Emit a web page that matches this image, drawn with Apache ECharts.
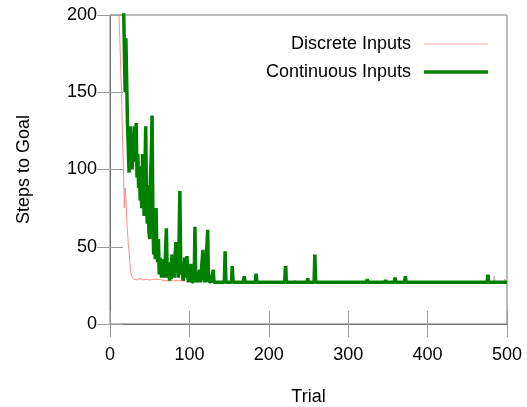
<!DOCTYPE html>
<html>
<head>
<meta charset="utf-8">
<script src="https://cdn.jsdelivr.net/npm/echarts@6/dist/echarts.min.js"></script>
<style>
html,body{margin:0;padding:0;background:#fff;}
#c{width:527px;height:407px;}
</style>
</head>
<body>
<div id="c"></div>
<script>
// Tick values
var xTicks = [0, 100, 200, 300, 400, 500];
var yTicks = [0, 50, 100, 150, 200];
var seriesNames = ['Discrete Inputs', 'Continuous Inputs'];

// Discrete Inputs: [trial, steps]
var discrete = [
  [9, 260], [11, 205], [13, 175], [15, 140], [16, 115], [17, 100], [18, 75], [19, 88],
  [20, 82], [21, 68], [22, 60], [23, 52], [24, 47], [25, 40], [26, 34], [27, 31],
  [28, 30], [30, 29], [35, 28.5], [38, 29.5], [42, 28.5], [46, 29], [50, 28.5],
  [55, 29], [60, 29], [65, 28.5], [70, 28], [80, 28], [90, 28], [100, 27.5],
  [120, 27.5], [150, 27], [222, 27], [223, 38], [224, 27], [232, 27], [233, 28.5],
  [234, 27], [394, 27], [395, 28], [396, 27], [411, 27], [412, 28], [413, 27],
  [426, 27], [427, 28], [428, 27], [437, 27], [438, 28], [439, 27], [463, 27],
  [464, 28], [465, 27], [483, 27], [484, 31], [485, 27], [496, 27], [497, 29],
  [498, 27], [500, 27]
];

// Continuous Inputs: [trial, steps]
var continuous = [
  [15, 260], [17, 210], [19, 150], [20, 185], [22, 130], [23, 115], [24, 98],
  [25, 125], [26, 128], [27, 110], [28, 100], [29, 120], [30, 105], [31, 128],
  [32, 115], [33, 130], [34, 95], [35, 110], [36, 88], [37, 102], [38, 80],
  [39, 95], [40, 75], [41, 110], [42, 85], [43, 70], [44, 100], [45, 128],
  [46, 80], [47, 65], [48, 90], [49, 60], [50, 55], [51, 95], [52, 110],
  [53, 135], [54, 70], [55, 45], [56, 60], [57, 42], [58, 75], [59, 48],
  [60, 40], [61, 55], [62, 32], [63, 43], [64, 35], [65, 30], [66, 42],
  [67, 33], [68, 38], [69, 30], [70, 48], [71, 62], [72, 35], [73, 30],
  [74, 40], [75, 28], [76, 36], [77, 29], [78, 45], [79, 33], [80, 40],
  [81, 30], [82, 45], [83, 53], [84, 35], [85, 42], [86, 30], [87, 55],
  [88, 86], [89, 40], [90, 32], [91, 38], [92, 28], [93, 34], [94, 43],
  [95, 30], [96, 36], [97, 44], [98, 30], [99, 27], [100, 32], [101, 27],
  [102, 39], [103, 27], [106, 28], [107, 63], [108, 30], [110, 27],
  [113, 35], [114, 27], [116, 28], [117, 48], [118, 30], [120, 27],
  [122, 28], [123, 61], [124, 28], [127, 27], [130, 35], [131, 27],
  [144, 27], [145, 47], [146, 27], [153, 27], [154, 37.5], [155, 27],
  [168, 27], [169, 31], [170, 27], [183, 27], [184, 32.5], [185, 27],
  [220, 27], [221, 37.5], [222, 27], [248, 27], [249, 29.5], [250, 27],
  [257, 27], [258, 45], [259, 27], [323, 27], [324, 29], [325, 27],
  [346, 27], [347, 28.5], [348, 27], [358, 27], [359, 30], [360, 27],
  [371, 27], [372, 31], [373, 27], [475, 27], [476, 32], [477, 27],
  [500, 27]
];

var FONT = 'Liberation Sans, Arial, sans-serif';
var RED = '#ff8c8c';
var GREEN = '#008000';
var chart = echarts.init(document.getElementById('c'), null, {renderer: 'canvas'});

function xAxisDef(pos, showLabel) {
  return {
    type: 'value', position: pos, min: xTicks[0], max: xTicks[xTicks.length - 1],
    interval: xTicks[1] - xTicks[0],
    name: showLabel ? 'Trial' : '', nameLocation: 'middle', nameGap: 64,
    nameTextStyle: {fontSize: 18, color: '#000', fontFamily: FONT},
    axisLine: {show: true, lineStyle: {color: '#777', width: 1}},
    axisTick: {show: true, inside: true, length: 13, lineStyle: {color: '#999', width: 1}},
    axisLabel: {show: showLabel, margin: 22, fontSize: 18, color: '#000', fontFamily: FONT},
    splitLine: {show: false}
  };
}
function yAxisDef(pos, showLabel) {
  return {
    type: 'value', position: pos, min: yTicks[0], max: yTicks[yTicks.length - 1],
    interval: yTicks[1] - yTicks[0],
    name: showLabel ? 'Steps to Goal' : '', nameLocation: 'middle', nameGap: 77,
    nameTextStyle: {fontSize: 18, color: '#000', fontFamily: FONT},
    axisLine: {show: true, lineStyle: {color: '#777', width: 1}},
    axisTick: {show: true, inside: true, length: 13, lineStyle: {color: '#999', width: 1}},
    axisLabel: {show: showLabel, margin: 13, fontSize: 18, color: '#000', fontFamily: FONT},
    splitLine: {show: false}
  };
}

chart.setOption({
  animation: false,
  backgroundColor: '#fff',
  grid: {left: 110, right: 20, top: 15, bottom: 83, containLabel: false,
         outerBoundsMode: 'none',
         show: true, borderColor: '#777', borderWidth: 1, backgroundColor: 'transparent'},
  legend: {
    orient: 'vertical', right: 34, top: 30, align: 'right',
    itemWidth: 64, itemHeight: 14, itemGap: 10,
    symbolKeepAspect: true,
    itemStyle: {borderWidth: 0},
    textStyle: {fontSize: 18, color: '#000', fontFamily: FONT, padding: [0, 8, 0, 0]},
    data: [
      {name: seriesNames[0], icon: 'path://M0,0H64V1.2H0Z', itemStyle: {color: '#ffaaaa'}},
      {name: seriesNames[1], icon: 'path://M0,0H64V3.5H0Z', itemStyle: {color: GREEN}}
    ]
  },
  xAxis: [xAxisDef('bottom', true), xAxisDef('top', false)],
  yAxis: [yAxisDef('left', true), yAxisDef('right', false)],
  series: [
    {
      name: seriesNames[0], type: 'line', data: discrete, xAxisIndex: 0, yAxisIndex: 0,
      showSymbol: false, symbol: 'none', clip: true,
      lineStyle: {color: RED, width: 1},
      itemStyle: {color: RED}
    },
    {
      name: seriesNames[1], type: 'line', data: continuous, xAxisIndex: 0, yAxisIndex: 0,
      showSymbol: false, symbol: 'none', clip: true,
      lineStyle: {color: GREEN, width: 3.5},
      itemStyle: {color: GREEN}
    }
  ]
});
</script>
</body>
</html>
